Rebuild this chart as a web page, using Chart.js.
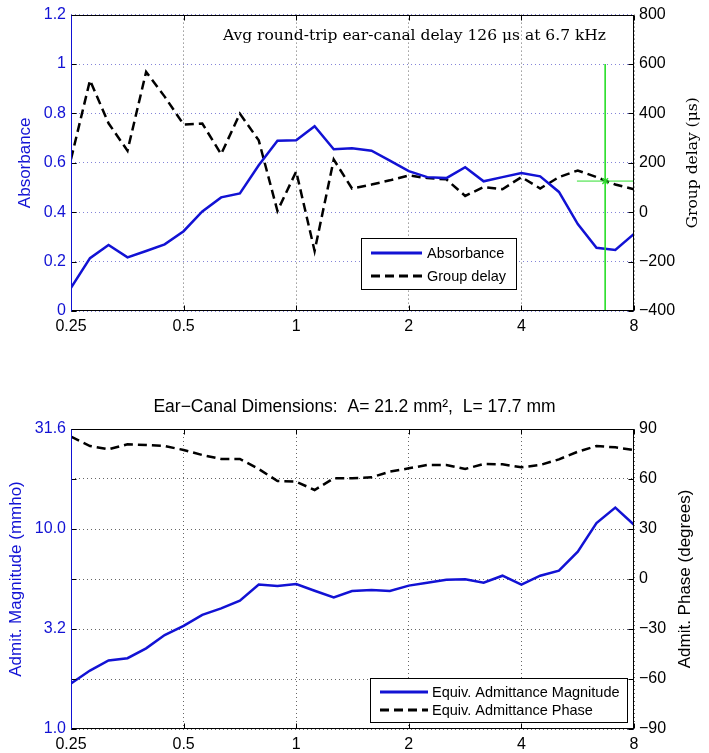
<!DOCTYPE html>
<html>
<head>
<meta charset="utf-8">
<script src="https://cdn.jsdelivr.net/npm/chart.js@4.4.0/dist/chart.umd.min.js"></script>
<style>
  html, body { margin: 0; padding: 0; background: #fff; }
  #wrap { position: relative; width: 709px; height: 753px; }
  #top { position: absolute; left: 0; top: 0; }
  #bottom { position: absolute; left: 0; top: 380px; }
</style>
</head>
<body>
<div id="wrap">
  <canvas id="top" width="709" height="345"></canvas>
  <canvas id="bottom" width="709" height="373"></canvas>
</div>
<script>
// frequencies in kHz, 1/6 octave steps
const freqs = [0.25, 0.281, 0.315, 0.354, 0.397, 0.445, 0.5, 0.561, 0.63, 0.707, 0.794,
  0.891, 1, 1.12, 1.26, 1.41, 1.59, 1.78, 2, 2.24, 2.52, 2.83, 3.17, 3.56, 4, 4.49,
  5.04, 5.66, 6.35, 7.13, 8];
const absorbance = [0.094, 0.214, 0.267, 0.217, 0.243, 0.270, 0.323, 0.403, 0.460, 0.476, 0.59,
  0.689, 0.691, 0.748, 0.655, 0.659, 0.649, 0.609, 0.566, 0.542, 0.538, 0.582, 0.525, 0.542,
  0.559, 0.545, 0.482, 0.352, 0.256, 0.247, 0.312];
const groupDelay = [215, 534, 360, 249, 568, 468, 355, 359, 235, 399, 291, 5, 165, -157, 213,
  96, 112, 129, 149, 138, 133, 66, 102, 93, 142, 96, 142, 169, 142, 112, 93];
const magnitude = [1.69, 1.96, 2.20, 2.26, 2.53, 2.95, 3.28, 3.72, 4.01, 4.38, 5.28, 5.19, 5.31,
  4.91, 4.55, 4.90, 4.95, 4.90, 5.21, 5.39, 5.58, 5.60, 5.39, 5.84, 5.27, 5.84, 6.19, 7.70,
  10.7, 12.8, 10.5];
const phase = [85.4, 79.8, 77.8, 80.8, 80.4, 79.8, 77.4, 74.4, 72, 72, 66, 58.8, 58.4, 53.4,
  60.4, 60.4, 61, 64.4, 66.4, 68.4, 68.4, 66, 69, 68.8, 67, 68.4, 71.8, 76.4, 79.8, 79, 77.4];

const xTicks = [0.25, 0.5, 1, 2, 4, 8];
const xTickLabels = ['0.25', '0.5', '1', '2', '4', '8'];
const absRange = [0, 1.2];
const delayRange = [-400, 800];
const magRange = [1, 31.62];
const magTicks = [1, 3.162, 10, 31.62];
const magTickLabels = ['1.0', '3.2', '10.0', '31.6'];
const phaseRange = [-90, 90];

// 6.7 kHz delay marker
const markerFreq = 6.7;
const markerDelay = 126;
const markerTop = 600;
const markerStart = 5.63;

const BLUE = '#1212d4';
const GREEN = '#2ede2e';
const FONT = 'Liberation Sans';
Chart.defaults.font.family = FONT;

const pts = (ys) => ys.map((y, i) => ({ x: freqs[i], y }));
const minus = (v) => String(v).replace('-', '\u2212');

// box, inward ticks, legend, right-hand title, note
const framePlugin = {
  id: 'frame',
  afterDatasetsDraw(chart, args, opts) {
    const { ctx, chartArea: a } = chart;
    const L = Math.round(a.left) + 0.5, R = Math.round(a.right) - 0.5;
    const T = Math.round(a.top) + 0.5, B = Math.round(a.bottom) - 0.5;
    const tl = 5;
    ctx.save();
    ctx.lineWidth = 1;
    ctx.strokeStyle = '#000';
    chart.scales.x.ticks.forEach(t => {
      const px = Math.round(chart.scales.x.getPixelForValue(t.value)) + 0.5;
      ctx.beginPath();
      ctx.moveTo(px, B); ctx.lineTo(px, B - tl);
      ctx.moveTo(px, T); ctx.lineTo(px, T + tl);
      ctx.stroke();
    });
    [['y', opts.leftColor], ['y1', '#000']].forEach(([id, col]) => {
      const s = chart.scales[id];
      ctx.strokeStyle = col;
      s.ticks.forEach(t => {
        const py = Math.round(s.getPixelForValue(t.value)) + 0.5;
        ctx.beginPath();
        ctx.moveTo(L, py); ctx.lineTo(L + tl, py);
        ctx.moveTo(R, py); ctx.lineTo(R - tl, py);
        ctx.stroke();
      });
    });
    ctx.strokeStyle = '#000';
    ctx.strokeRect(L, T, R - L, B - T);
    ctx.strokeStyle = opts.leftColor;
    ctx.beginPath(); ctx.moveTo(L, T); ctx.lineTo(L, B + 0.5); ctx.stroke();

    // legend
    const lg = opts.legend;
    ctx.fillStyle = '#fff';
    ctx.fillRect(lg.x, lg.y, lg.w, lg.h);
    ctx.strokeStyle = '#000';
    ctx.lineWidth = 1;
    ctx.strokeRect(lg.x + 0.5, lg.y + 0.5, lg.w, lg.h);
    const items = chart.data.datasets.filter(d => d.inLegend);
    ctx.font = lg.font;
    ctx.textBaseline = 'middle';
    ctx.textAlign = 'left';
    items.forEach((d, i) => {
      const yy = lg.rows[i];
      ctx.strokeStyle = d.borderColor;
      ctx.lineWidth = d.borderWidth + 0.5;
      ctx.setLineDash(d.borderDash || []);
      ctx.beginPath(); ctx.moveTo(lg.x0, yy); ctx.lineTo(lg.x1, yy); ctx.stroke();
      ctx.setLineDash([]);
      ctx.fillStyle = '#000';
      ctx.fillText(d.label, lg.tx, yy + 1);
    });

    // right title reads bottom to top
    const rt = opts.rightTitle;
    ctx.save();
    ctx.translate(rt.x, (a.top + a.bottom) / 2);
    ctx.rotate(-Math.PI / 2);
    ctx.font = rt.font;
    ctx.fillStyle = '#000';
    ctx.textAlign = 'center';
    ctx.textBaseline = 'middle';
    ctx.fillText(rt.text, 0, 0);
    ctx.restore();

    if (opts.note) {
      ctx.font = opts.note.font;
      ctx.fillStyle = '#000';
      ctx.textAlign = 'right';
      ctx.textBaseline = 'alphabetic';
      ctx.fillText(opts.note.text, opts.note.x, opts.note.y);
    }
    ctx.restore();
  }
};

const xScale = (h) => ({
  type: 'logarithmic',
  min: xTicks[0],
  max: xTicks[xTicks.length - 1],
  afterBuildTicks: s => { s.ticks = xTicks.map(v => ({ value: v })); },
  afterFit: s => { s.height = h; },
  ticks: { callback: (v, i) => xTickLabels[i], color: '#000', font: { size: 16 }, padding: 6,
    maxRotation: 0, autoSkip: false },
  grid: { color: 'rgba(0,0,0,0.6)', lineWidth: 1, drawTicks: false },
  border: { display: false, dash: [1, 3] }
});

new Chart(document.getElementById('top'), {
  type: 'line',
  data: {
    datasets: [
      { label: 'marker', data: [{ x: markerFreq, y: markerDelay }], yAxisID: 'y1', showLine: false,
        pointStyle: 'crossRot', pointRadius: 4, borderColor: GREEN, borderWidth: 1.5, order: 0 },
      { label: 'vline', data: [{ x: markerFreq, y: markerTop }, { x: markerFreq, y: delayRange[0] }],
        yAxisID: 'y1', borderColor: GREEN, borderWidth: 1, pointRadius: 0, order: 1 },
      { label: 'hline', data: [{ x: markerStart, y: markerDelay }, { x: 8, y: markerDelay }],
        yAxisID: 'y1', borderColor: GREEN, borderWidth: 1, pointRadius: 0, order: 2 },
      { label: 'Absorbance', data: pts(absorbance), yAxisID: 'y', borderColor: BLUE,
        borderWidth: 2.5, pointRadius: 0, order: 3, inLegend: true },
      { label: 'Group delay', data: pts(groupDelay), yAxisID: 'y1', borderColor: '#000',
        borderDash: [9, 5], borderWidth: 2.5, pointRadius: 0, order: 4, inLegend: true }
    ]
  },
  options: {
    responsive: false,
    animation: false,
    layout: { padding: { top: 10 } },
    plugins: {
      legend: { display: false },
      tooltip: { enabled: false },
      frame: {
        leftColor: BLUE,
        legend: { x: 361, y: 238, w: 155, h: 51, rows: [253, 276], x0: 371, x1: 422, tx: 427,
          font: '14.5px "Liberation Sans"' },
        rightTitle: { text: 'Group delay (\u03bcs)', x: 693, font: '15.5px "DejaVu Serif"' },
        note: { text: 'Avg round-trip ear-canal delay 126 \u03bcs at 6.7 kHz', x: 606, y: 40,
          font: '15.5px "DejaVu Serif"' }
      }
    },
    scales: {
      x: xScale(34),
      y: {
        position: 'left', min: absRange[0], max: absRange[1],
        afterFit: s => { s.width = 71; },
        ticks: { stepSize: 0.2, color: BLUE, font: { size: 16 }, padding: 5,
          callback: v => String(+v.toFixed(1)) },
        title: { display: true, text: 'Absorbance', color: BLUE, font: { size: 17 },
          padding: { top: 15, bottom: 0 } },
        grid: { color: 'rgba(50,50,190,0.6)', drawTicks: false },
        border: { display: false, dash: [1, 3] }
      },
      y1: {
        position: 'right', min: delayRange[0], max: delayRange[1],
        afterFit: s => { s.width = 75; },
        ticks: { stepSize: 200, color: '#000', font: { size: 16 }, padding: 5, callback: minus },
        grid: { display: false, drawTicks: false },
        border: { display: false }
      }
    }
  },
  plugins: [framePlugin]
});

new Chart(document.getElementById('bottom'), {
  type: 'line',
  data: {
    datasets: [
      { label: 'Equiv. Admittance Magnitude', data: pts(magnitude), yAxisID: 'y', borderColor: BLUE,
        borderWidth: 2.5, pointRadius: 0, order: 0, inLegend: true },
      { label: 'Equiv. Admittance Phase', data: pts(phase), yAxisID: 'y1', borderColor: '#000',
        borderDash: [9, 5], borderWidth: 2.5, pointRadius: 0, order: 1, inLegend: true }
    ]
  },
  options: {
    responsive: false,
    animation: false,
    plugins: {
      legend: { display: false },
      tooltip: { enabled: false },
      title: { display: true, text: 'Ear\u2212Canal Dimensions:  A= 21.2 mm\u00b2,  L= 17.7 mm',
        color: '#000', font: { size: 17.5, weight: 'normal' }, padding: { top: 17, bottom: 11 } },
      frame: {
        leftColor: BLUE,
        legend: { x: 370, y: 298, w: 257, h: 44, rows: [312, 330], x0: 380, x1: 428, tx: 432,
          font: '14.5px "Liberation Sans"' },
        rightTitle: { text: 'Admit. Phase (degrees)', x: 685, font: '17px "Liberation Sans"' }
      }
    },
    scales: {
      x: xScale(24),
      y: {
        type: 'logarithmic', position: 'left', min: magRange[0], max: magRange[1],
        afterBuildTicks: s => { s.ticks = magTicks.map(v => ({ value: v })); },
        afterFit: s => { s.width = 71; },
        ticks: { callback: (v, i) => magTickLabels[i], color: BLUE, font: { size: 16 }, padding: 5,
          autoSkip: false },
        title: { display: true, text: 'Admit. Magnitude (mmho)', color: BLUE, font: { size: 17 },
          padding: { top: 6, bottom: 0 } },
        grid: { display: false, drawTicks: false },
        border: { display: false }
      },
      y1: {
        position: 'right', min: phaseRange[0], max: phaseRange[1],
        afterFit: s => { s.width = 75; },
        ticks: { stepSize: 30, color: '#000', font: { size: 16 }, padding: 5, callback: minus },
        grid: { color: 'rgba(0,0,0,0.6)', drawTicks: false },
        border: { display: false, dash: [1, 3] }
      }
    }
  },
  plugins: [framePlugin]
});
</script>
</body>
</html>
